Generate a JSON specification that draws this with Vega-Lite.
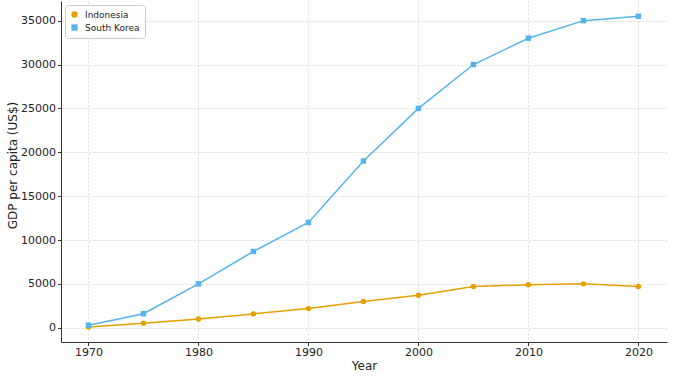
{
  "$schema": "https://vega.github.io/schema/vega-lite/v6.json",
  "autosize": "none",
  "width": 606,
  "height": 341,
  "padding": {"left": 61, "top": 1, "right": 6, "bottom": 37},
  "background": "white",
  "config": {
    "font": "DejaVu Sans",
    "view": {"stroke": null},
    "axis": {
      "labelFont": "DejaVu Sans",
      "titleFont": "DejaVu Sans",
      "labelFontSize": 11,
      "titleFontSize": 12,
      "titleFontWeight": "normal",
      "labelColor": "#222",
      "titleColor": "#222",
      "domainColor": "#333",
      "tickColor": "#333",
      "gridColor": "#cccccc",
      "gridDash": [2, 2],
      "gridWidth": 0.7
    }
  },
  "data": {
    "values": [
      {"Year": 1970, "Country": "Indonesia", "GDP": 80},
      {"Year": 1975, "Country": "Indonesia", "GDP": 500},
      {"Year": 1980, "Country": "Indonesia", "GDP": 1000},
      {"Year": 1985, "Country": "Indonesia", "GDP": 1580},
      {"Year": 1990, "Country": "Indonesia", "GDP": 2180},
      {"Year": 1995, "Country": "Indonesia", "GDP": 2980},
      {"Year": 2000, "Country": "Indonesia", "GDP": 3700},
      {"Year": 2005, "Country": "Indonesia", "GDP": 4700},
      {"Year": 2010, "Country": "Indonesia", "GDP": 4900},
      {"Year": 2015, "Country": "Indonesia", "GDP": 5000},
      {"Year": 2020, "Country": "Indonesia", "GDP": 4700},
      {"Year": 1970, "Country": "South Korea", "GDP": 290},
      {"Year": 1975, "Country": "South Korea", "GDP": 1600},
      {"Year": 1980, "Country": "South Korea", "GDP": 5000},
      {"Year": 1985, "Country": "South Korea", "GDP": 8700},
      {"Year": 1990, "Country": "South Korea", "GDP": 12000},
      {"Year": 1995, "Country": "South Korea", "GDP": 19000},
      {"Year": 2000, "Country": "South Korea", "GDP": 25000},
      {"Year": 2005, "Country": "South Korea", "GDP": 30000},
      {"Year": 2010, "Country": "South Korea", "GDP": 33000},
      {"Year": 2015, "Country": "South Korea", "GDP": 35000},
      {"Year": 2020, "Country": "South Korea", "GDP": 35500}
    ]
  },
  "mark": {"type": "line", "strokeWidth": 1.5, "point": {"filled": true, "size": 30}},
  "encoding": {
    "x": {
      "field": "Year", "type": "quantitative", "title": "Year",
      "scale": {"domain": [1967.5, 2022.6], "nice": false, "zero": false},
      "axis": {"values": [1970, 1980, 1990, 2000, 2010, 2020], "format": "d", "titlePadding": 3, "labelPadding": 1, "tickSize": 3.5}
    },
    "y": {
      "field": "GDP", "type": "quantitative", "title": "GDP per capita (US$)",
      "scale": {"domain": [-1625, 37240], "nice": false, "zero": false},
      "axis": {"values": [0, 5000, 10000, 15000, 20000, 25000, 30000, 35000], "format": "d", "titleX": -49, "titleY": 164, "titleAlign": "center", "titleBaseline": "middle", "labelPadding": 2, "tickSize": 3.5}
    },
    "color": {
      "field": "Country", "type": "nominal",
      "scale": {"domain": ["Indonesia", "South Korea"], "range": ["#E69F00", "#56B4E9"]},
      "legend": {
        "title": null, "orient": "top-left", "offset": 4,
        "fillColor": "white", "strokeColor": "#cccccc", "cornerRadius": 3, "padding": 5,
        "labelFont": "DejaVu Sans", "labelFontSize": 9, "labelColor": "#222", "rowPadding": 3,
        "symbolSize": 40, "symbolStrokeWidth": 0, "labelOffset": 6
      }
    },
    "shape": {
      "field": "Country", "type": "nominal",
      "scale": {"domain": ["Indonesia", "South Korea"], "range": ["circle", "square"]}
    }
  }
}
